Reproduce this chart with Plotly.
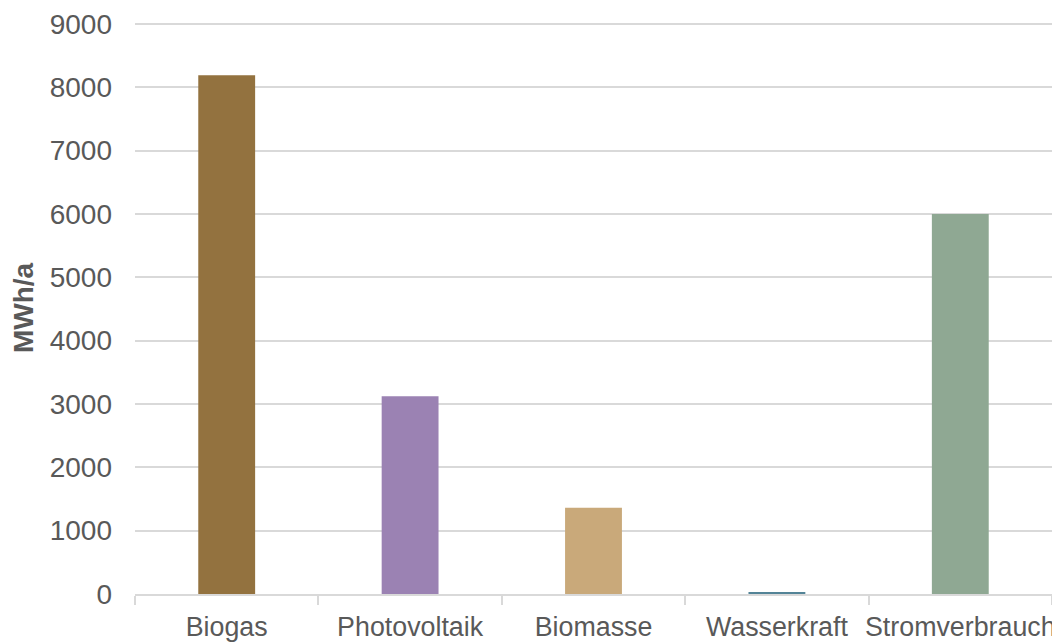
import plotly.graph_objects as go

categories = ["Biogas", "Photovoltaik", "Biomasse", "Wasserkraft", "Stromverbrauch"]
values = [8190, 3120, 1360, 30, 6000]
colors = ["#93723F", "#9B82B3", "#C9A97A", "#538497", "#8FA893"]
y_ticks = [0, 1000, 2000, 3000, 4000, 5000, 6000, 7000, 8000, 9000]

fig = go.Figure(go.Bar(x=categories, y=values, marker=dict(color=colors, line=dict(width=0)),
                       width=0.31))

font_family = "Liberation Sans, Arial, sans-serif"
fig.update_layout(
    width=1060, height=643,
    margin=dict(l=127, r=16, t=14, b=57, autoexpand=False),
    plot_bgcolor="white", paper_bgcolor="white",
    showlegend=False,
    font=dict(family=font_family, size=28, color="#595959"),
    xaxis=dict(
        showline=True, linecolor="#D9D9D9", linewidth=1.5,
        ticks="outside", tickcolor="#D9D9D9", ticklen=9, tickwidth=1.5,
        tickson="boundaries", showgrid=False, tickangle=0, automargin=False,
        tickfont=dict(size=26.8, color="#595959"), ticklabelstandoff=8,
    ),
    yaxis=dict(
        range=[0, 9030], tickvals=y_ticks, showgrid=True, gridcolor="#D9D9D9", gridwidth=1.5,
        zeroline=False, showline=False, ticks="", automargin=False,
        tickfont=dict(size=28, color="#595959"), ticklabelstandoff=22,
        title=dict(text="<b>MWh/a</b>", font=dict(size=28, color="#595959"), standoff=10),
    ),
)

fig.write_html("out.html")
